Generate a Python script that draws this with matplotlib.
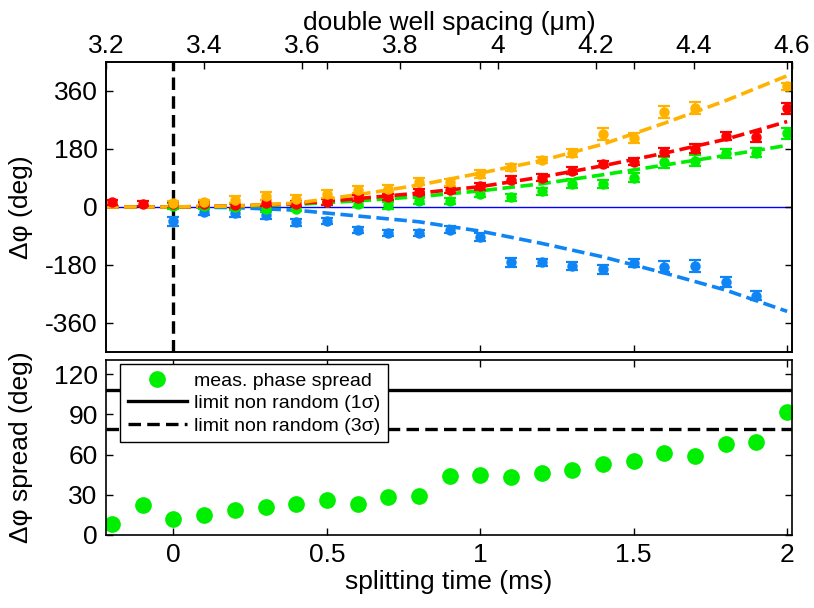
import numpy as np
import matplotlib
matplotlib.use('Agg')
import matplotlib.pyplot as plt

plt.rcParams['font.family'] = ['Liberation Sans', 'DejaVu Sans']
plt.rcParams['font.size'] = 19
plt.rcParams['lines.scale_dashes'] = False

nan = np.nan

# splitting time (ms) of each measurement
t = [-0.2, -0.1, 0.0, 0.1, 0.2, 0.3, 0.4, 0.5, 0.6, 0.7, 0.8, 0.9,
     1.0, 1.1, 1.2, 1.3, 1.4, 1.5, 1.6, 1.7, 1.8, 1.9, 2.0]

# phase difference (deg) per series
orange = [nan, nan, 12, 15, 23, 33, 26, 41, 54, 57, 79, 76,
          102, 123, 146, 168, 227, 214, 294, 307, nan, nan, 374]
red = [14, 10, 8, 8, 5, 12, 10, 15, 28, 31, 46, 52,
       64, 85, 91, 113, 134, 141, 171, 180, 221, 218, 306]
green = [nan, nan, 3, 2, 0, -7, -5, 15, 10, 5, 18, 18,
         40, 30, 48, 72, 71, 90, 138, 144, 166, 168, 228]
blue = [nan, nan, -45, -15, -20, -26, -48, -44, -72, -80, -80, -70,
        -94, -172, -172, -183, -193, -175, -185, -183, -233, -275, nan]

orange_err = [nan, nan, 8, 8, 10, 12, 10, 12, 12, 12, 12, 10,
              12, 10, 10, 12, 18, 16, 18, 18, nan, nan, 10]
red_err = [8, 8, 8, 8, 8, 10, 8, 10, 10, 10, 10, 10,
           10, 10, 10, 10, 10, 10, 12, 14, 12, 16, 18]
green_err = [nan, nan, 8, 8, 8, 10, 8, 10, 10, 10, 10, 10,
             10, 10, 10, 14, 12, 14, 16, 16, 14, 14, 18]
blue_err = [nan, nan, 15, 10, 10, 12, 10, 10, 10, 10, 10, 12,
            12, 15, 12, 12, 14, 12, 18, 18, 16, 14, nan]

t_fit = [-0.22, 0.0, 0.2, 0.4, 0.6, 0.8, 1.0, 1.2, 1.4, 1.6, 1.8, 2.0]
orange_fit = [0, 0, 3, 12, 38, 68, 105, 144, 195, 260, 330, 407]
red_fit = [0, 0, 3, 10, 26, 43, 63, 93, 128, 167, 210, 265]
green_fit = [0, 0, 2, 8, 19, 32, 50, 72, 100, 130, 160, 191]
blue_fit = [0, 0, -2, -10, -28, -46, -75, -113, -155, -205, -258, -324]

# phase spread (deg)
spread = [8, 22, 12, 15, 19, 21, 23, 26, 23, 28.5, 29, 44,
          45, 43, 46.5, 48.5, 53, 55, 61, 59, 68, 69.5, 92]
limit_1sigma = 108
limit_3sigma = 79

spacing_ticks = [3.2, 3.4, 3.6, 3.8, 4.0, 4.2, 4.4, 4.6]
spacing_labels = ['3.2', '3.4', '3.6', '3.8', '4', '4.2', '4.4', '4.6']
time_ticks = [0, 0.5, 1, 1.5, 2]
time_labels = ['0', '0.5', '1', '1.5', '2']

c_orange = '#FFB300'
c_red = '#FF0000'
c_green = '#00EE00'
c_blue = '#0F84F5'

fig = plt.figure(figsize=(8.14, 6.08), dpi=100)
ax1 = fig.add_axes([0.1302, 0.4211, 0.8428, 0.4770])
ax2 = fig.add_axes([0.1302, 0.1201, 0.8428, 0.2878])

ax1.axhline(0, color='#0000FF', lw=1.0, zorder=1)
ax1.axvline(0, color='k', lw=2.4, ls=(0, (9, 4.5)), zorder=1)

series = [(blue, blue_err, blue_fit, c_blue),
          (green, green_err, green_fit, c_green),
          (red, red_err, red_fit, c_red),
          (orange, orange_err, orange_fit, c_orange)]
for y, err, fit, col in series:
    ax1.plot(t_fit, fit, color=col, lw=2.6, ls=(0, (9, 4)), zorder=2)
for y, err, fit, col in series:
    ax1.errorbar(t, y, yerr=err, fmt='o', color=col, ms=6.5, capsize=4,
                 elinewidth=1.3, capthick=1.6, zorder=3)

ax1.set_xlim(-0.22, 2.016)
ax1.set_ylim(-450, 450)
ax1.set_yticks([-360, -180, 0, 180, 360])
ax1.set_yticklabels(['-360', '-180', '0', '180', '360'])
ax1.set_xticks(time_ticks)
ax1.set_ylabel('Δφ (deg)')
ax1.yaxis.set_label_coords(-0.106, 0.5)

top = ax1.twiny()
top.set_xlim(3.2, 4.6)
top.set_xticks(spacing_ticks)
top.set_xticklabels(spacing_labels)
top.tick_params(direction='in', length=5, width=1, pad=3)
top.set_xlabel('double well spacing (μm)', labelpad=3)

ax1.tick_params(direction='in', top=True, right=True, labelbottom=False,
                labeltop=False, length=5, width=1, pad=6)

ax2.plot(t, spread, 'o', color=c_green, ms=11, label='meas. phase spread')
ax2.axhline(limit_1sigma, color='k', lw=2.4, label='limit non random (1σ)')
ax2.axhline(limit_3sigma, color='k', lw=2.4, ls=(0, (9, 4.5)),
            label='limit non random (3σ)')
ax2.set_xlim(-0.22, 2.016)
ax2.set_ylim(0, 130.5)
ax2.set_yticks([0, 30, 60, 90, 120])
ax2.set_xticks(time_ticks)
ax2.set_xticklabels(time_labels)
ax2.tick_params(direction='in', top=True, right=True, length=5, width=1, pad=6)
ax2.set_xlabel('splitting time (ms)', labelpad=2)
ax2.set_ylabel('Δφ spread (deg)')
ax2.yaxis.set_label_coords(-0.106, 0.5)

leg = ax2.legend(loc='upper left', bbox_to_anchor=(0.021, 0.975),
                 borderaxespad=0, fontsize=14, handlelength=3.0,
                 handletextpad=0.4, labelspacing=0.25, borderpad=0.4,
                 fancybox=False, framealpha=1, edgecolor='k')
leg.get_frame().set_linewidth(1.0)

for ax in (ax1, ax2, top):
    for s in ax.spines.values():
        s.set_linewidth(1.2)

fig.savefig('out.png', dpi=100)
